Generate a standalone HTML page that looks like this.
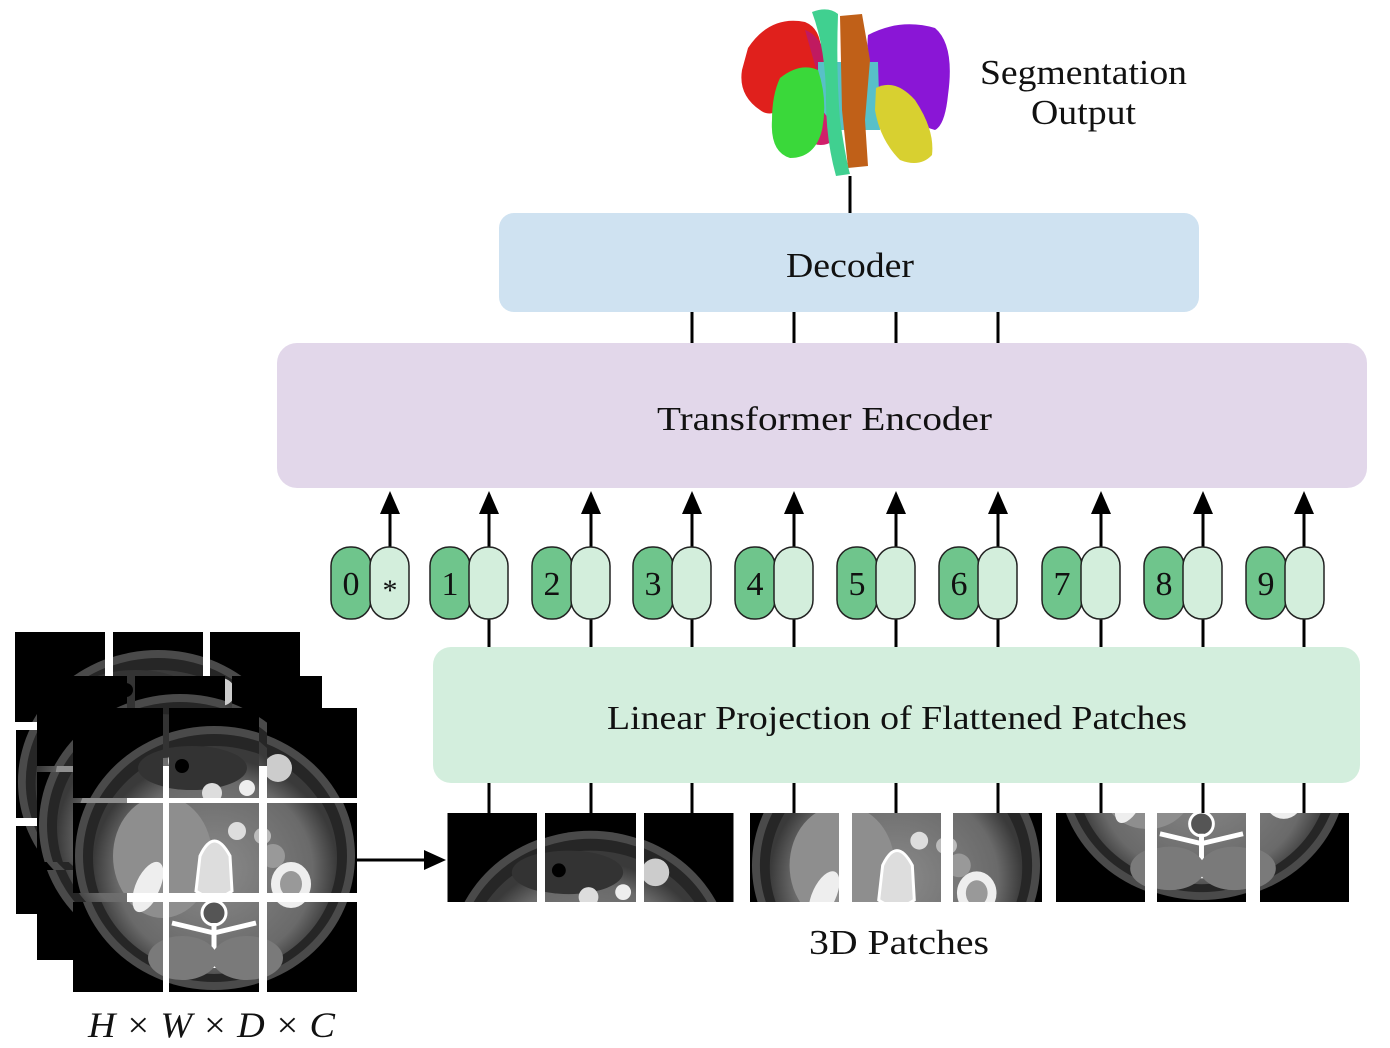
<!DOCTYPE html>
<html><head><meta charset="utf-8"><style>
html,body{margin:0;padding:0;background:#fff;}
svg{display:block;}
text{font-family:"Liberation Serif",serif;fill:#111;}
</style></head><body>
<svg width="1390" height="1048" viewBox="0 0 1390 1048" xmlns="http://www.w3.org/2000/svg">
<defs>
<radialGradient id="bodyg" cx="0.5" cy="0.55" r="0.5">
<stop offset="0" stop-color="#8a8a8a"/><stop offset="0.8" stop-color="#6a6a6a"/><stop offset="1" stop-color="#3a3a3a"/>
</radialGradient>
<g id="ct">
<rect x="0" y="0" width="284" height="284" fill="#000"/>
<ellipse cx="142" cy="150" rx="140" ry="132" fill="#4a4a4a"/>
<ellipse cx="142" cy="150" rx="132" ry="124" fill="#262626"/>
<ellipse cx="142" cy="152" rx="122" ry="114" fill="url(#bodyg)"/>
<ellipse cx="90" cy="150" rx="50" ry="60" fill="#8e8e8e"/>
<ellipse cx="120" cy="60" rx="55" ry="22" fill="#333"/>
<circle cx="110" cy="58" r="7" fill="#000"/>
<circle cx="140" cy="85" r="10" fill="#ddd"/>
<circle cx="175" cy="80" r="8" fill="#eee"/>
<circle cx="205" cy="60" r="14" fill="#ccc"/>
<ellipse cx="75" cy="180" rx="12" ry="26" fill="#eee" transform="rotate(25 75 180)"/>
<ellipse cx="218" cy="178" rx="20" ry="22" fill="#eee"/>
<ellipse cx="218" cy="178" rx="11" ry="13" fill="#999"/>
<path d="M128 150 Q142 120 158 150 L160 185 Q142 198 124 185 Z" fill="#ddd" stroke="#fff" stroke-width="3"/>
<circle cx="142" cy="205" r="12" fill="#555" stroke="#fff" stroke-width="3"/>
<path d="M142 215 L142 260 M142 225 L100 215 M142 225 L184 215" stroke="#fff" stroke-width="5" fill="none"/>
<ellipse cx="110" cy="250" rx="35" ry="22" fill="#7a7a7a"/>
<ellipse cx="175" cy="250" rx="35" ry="22" fill="#7a7a7a"/>
<circle cx="165" cy="125" r="9" fill="#ddd"/><circle cx="190" cy="130" r="8" fill="#bbb"/>
<circle cx="200" cy="150" r="12" fill="#999"/>
</g>
</defs>

<!-- segmentation output -->
<g>
<path d="M748 48 Q770 15 805 22 Q825 30 820 65 Q812 95 785 108 Q770 118 760 110 Q738 95 742 70 Z" fill="#e0201c"/>
<path d="M805 30 Q820 35 828 60 L822 90 Z" fill="#c01a60"/>
<path d="M868 35 Q900 18 935 28 Q955 45 948 95 Q945 125 935 130 Q900 120 880 90 Q865 60 868 35 Z" fill="#8a16d6"/>
<path d="M818 62 L878 62 L880 130 L818 130 Z" fill="#58c0c8"/>
<path d="M812 105 Q830 110 835 140 Q820 150 808 140 Z" fill="#d0206a"/>
<path d="M780 78 Q800 62 818 70 Q828 100 822 130 Q815 158 790 158 Q770 152 772 120 Q772 95 780 78 Z" fill="#3ad83a"/>
<path d="M876 88 Q895 78 915 100 Q935 130 932 155 Q920 168 900 160 Q880 140 875 110 Z" fill="#d8d030"/>
<path d="M840 16 L862 14 L870 60 L865 120 L868 166 L848 168 L842 110 Z" fill="#c06018"/>
<path d="M812 12 Q828 6 838 14 Q836 70 840 120 Q846 160 850 174 L836 176 Q826 140 826 100 Q826 50 812 12 Z" fill="#40d090"/>
</g>
<line x1="850" y1="176" x2="850" y2="213" stroke="#000" stroke-width="3"/>
<text x="980" y="84" font-size="35" textLength="207" lengthAdjust="spacingAndGlyphs">Segmentation</text>
<text x="1031" y="124" font-size="35" textLength="105" lengthAdjust="spacingAndGlyphs">Output</text>

<!-- decoder -->
<rect x="499" y="213" width="700" height="99" rx="15" fill="#cfe2f1"/>
<text x="786" y="277" font-size="35" textLength="128" lengthAdjust="spacingAndGlyphs">Decoder</text>
<g stroke="#000" stroke-width="3">
<line x1="692" y1="312" x2="692" y2="343"/><line x1="794" y1="312" x2="794" y2="343"/>
<line x1="896" y1="312" x2="896" y2="343"/><line x1="998" y1="312" x2="998" y2="343"/>
</g>

<!-- encoder -->
<rect x="277" y="343" width="1090" height="145" rx="20" fill="#e2d7ea"/>
<text x="657" y="430" font-size="34" textLength="335" lengthAdjust="spacingAndGlyphs">Transformer  Encoder</text>

<!-- tokens -->
<g>
<g stroke="#000" stroke-width="3">
<line x1="390" y1="547" x2="390" y2="512"/><line x1="489" y1="547" x2="489" y2="512"/>
<line x1="591" y1="547" x2="591" y2="512"/><line x1="692" y1="547" x2="692" y2="512"/>
<line x1="794" y1="547" x2="794" y2="512"/><line x1="896" y1="547" x2="896" y2="512"/>
<line x1="998" y1="547" x2="998" y2="512"/><line x1="1101" y1="547" x2="1101" y2="512"/>
<line x1="1203" y1="547" x2="1203" y2="512"/><line x1="1304" y1="547" x2="1304" y2="512"/>
<line x1="489" y1="619" x2="489" y2="647"/><line x1="591" y1="619" x2="591" y2="647"/>
<line x1="692" y1="619" x2="692" y2="647"/><line x1="794" y1="619" x2="794" y2="647"/>
<line x1="896" y1="619" x2="896" y2="647"/><line x1="998" y1="619" x2="998" y2="647"/>
<line x1="1101" y1="619" x2="1101" y2="647"/><line x1="1203" y1="619" x2="1203" y2="647"/>
<line x1="1304" y1="619" x2="1304" y2="647"/>
</g>
<g fill="#000">
<polygon points="390,491 380,514 400,514"/><polygon points="489,491 479,514 499,514"/>
<polygon points="591,491 581,514 601,514"/><polygon points="692,491 682,514 702,514"/>
<polygon points="794,491 784,514 804,514"/><polygon points="896,491 886,514 906,514"/>
<polygon points="998,491 988,514 1008,514"/><polygon points="1101,491 1091,514 1111,514"/>
<polygon points="1203,491 1193,514 1213,514"/><polygon points="1304,491 1294,514 1314,514"/>
</g>
<g stroke="#222" stroke-width="1.5">
<rect x="331" y="547" width="40" height="72" rx="19" fill="#6fc58c"/><rect x="370" y="547" width="39" height="72" rx="19" fill="#d3eedc"/>
<rect x="430" y="547" width="40" height="72" rx="19" fill="#6fc58c"/><rect x="469" y="547" width="39" height="72" rx="19" fill="#d3eedc"/>
<rect x="532" y="547" width="40" height="72" rx="19" fill="#6fc58c"/><rect x="571" y="547" width="39" height="72" rx="19" fill="#d3eedc"/>
<rect x="633" y="547" width="40" height="72" rx="19" fill="#6fc58c"/><rect x="672" y="547" width="39" height="72" rx="19" fill="#d3eedc"/>
<rect x="735" y="547" width="40" height="72" rx="19" fill="#6fc58c"/><rect x="774" y="547" width="39" height="72" rx="19" fill="#d3eedc"/>
<rect x="837" y="547" width="40" height="72" rx="19" fill="#6fc58c"/><rect x="876" y="547" width="39" height="72" rx="19" fill="#d3eedc"/>
<rect x="939" y="547" width="40" height="72" rx="19" fill="#6fc58c"/><rect x="978" y="547" width="39" height="72" rx="19" fill="#d3eedc"/>
<rect x="1042" y="547" width="40" height="72" rx="19" fill="#6fc58c"/><rect x="1081" y="547" width="39" height="72" rx="19" fill="#d3eedc"/>
<rect x="1144" y="547" width="40" height="72" rx="19" fill="#6fc58c"/><rect x="1183" y="547" width="39" height="72" rx="19" fill="#d3eedc"/>
<rect x="1246" y="547" width="40" height="72" rx="19" fill="#6fc58c"/><rect x="1285" y="547" width="39" height="72" rx="19" fill="#d3eedc"/>
</g>
<g font-size="34" text-anchor="middle">
<text x="351" y="595">0</text><text x="390" y="600" font-size="30">*</text>
<text x="450" y="595">1</text><text x="552" y="595">2</text><text x="653" y="595">3</text>
<text x="755" y="595">4</text><text x="857" y="595">5</text><text x="959" y="595">6</text>
<text x="1062" y="595">7</text><text x="1164" y="595">8</text><text x="1266" y="595">9</text>
</g>
</g>

<!-- linear projection -->
<rect x="433" y="647" width="927" height="136" rx="18" fill="#d3eedd"/>
<text x="607" y="729" font-size="34" textLength="580" lengthAdjust="spacingAndGlyphs">Linear Projection of Flattened Patches</text>
<g stroke="#000" stroke-width="3">
<line x1="489" y1="783" x2="489" y2="813"/><line x1="591" y1="783" x2="591" y2="813"/>
<line x1="692" y1="783" x2="692" y2="813"/><line x1="794" y1="783" x2="794" y2="813"/>
<line x1="896" y1="783" x2="896" y2="813"/><line x1="998" y1="783" x2="998" y2="813"/>
<line x1="1101" y1="783" x2="1101" y2="813"/><line x1="1203" y1="783" x2="1203" y2="813"/>
<line x1="1304" y1="783" x2="1304" y2="813"/>
</g>

<!-- patches -->
<svg x="447" y="813" width="90" height="89" viewBox="0 0 90 90"><use href="#ct"/></svg>
<svg x="545" y="813" width="91" height="89" viewBox="97 0 90 90"><use href="#ct"/></svg>
<svg x="644" y="813" width="90" height="89" viewBox="194 0 90 90"><use href="#ct"/></svg>
<svg x="750" y="813" width="89" height="89" viewBox="0 97 90 90"><use href="#ct"/></svg>
<svg x="852" y="813" width="89" height="89" viewBox="97 97 90 90"><use href="#ct"/></svg>
<svg x="953" y="813" width="89" height="89" viewBox="194 97 90 90"><use href="#ct"/></svg>
<svg x="1056" y="813" width="89" height="89" viewBox="0 194 90 90"><use href="#ct"/></svg>
<svg x="1157" y="813" width="89" height="89" viewBox="97 194 90 90"><use href="#ct"/></svg>
<svg x="1260" y="813" width="89" height="89" viewBox="194 194 90 90"><use href="#ct"/></svg>
<text x="809" y="954" font-size="35" textLength="180" lengthAdjust="spacingAndGlyphs">3D Patches</text>

<!-- stacked CT volumes -->
<g>
<svg x="15" y="632" width="90" height="90" viewBox="0 0 90 90"><use href="#ct"/></svg>
<svg x="113" y="632" width="90" height="90" viewBox="97 0 90 90"><use href="#ct"/></svg>
<svg x="210" y="632" width="90" height="90" viewBox="194 0 90 90"><use href="#ct"/></svg>
<svg x="15" y="730" width="90" height="88" viewBox="0 97 90 90"><use href="#ct"/></svg>
<svg x="15" y="826" width="90" height="88" viewBox="0 194 90 90"><use href="#ct"/></svg>
<svg x="37" y="676" width="90" height="90" viewBox="0 0 90 90"><use href="#ct"/></svg>
<svg x="135" y="676" width="90" height="90" viewBox="97 0 90 90"><use href="#ct"/></svg>
<svg x="232" y="676" width="90" height="90" viewBox="194 0 90 90"><use href="#ct"/></svg>
<svg x="37" y="772" width="90" height="90" viewBox="0 97 90 90"><use href="#ct"/></svg>
<svg x="37" y="870" width="90" height="90" viewBox="0 194 90 90"><use href="#ct"/></svg>
<svg x="73" y="708" width="90" height="90" viewBox="0 0 90 90"><use href="#ct"/></svg>
<svg x="169" y="708" width="90" height="90" viewBox="97 0 90 90"><use href="#ct"/></svg>
<svg x="267" y="708" width="90" height="90" viewBox="194 0 90 90"><use href="#ct"/></svg>
<svg x="73" y="803" width="90" height="90" viewBox="0 97 90 90"><use href="#ct"/></svg>
<svg x="169" y="803" width="90" height="90" viewBox="97 97 90 90"><use href="#ct"/></svg>
<svg x="267" y="803" width="90" height="90" viewBox="194 97 90 90"><use href="#ct"/></svg>
<svg x="73" y="902" width="90" height="90" viewBox="0 194 90 90"><use href="#ct"/></svg>
<svg x="169" y="902" width="90" height="90" viewBox="97 194 90 90"><use href="#ct"/></svg>
<svg x="267" y="902" width="90" height="90" viewBox="194 194 90 90"><use href="#ct"/></svg>
</g>
<line x1="357" y1="860" x2="428" y2="860" stroke="#000" stroke-width="3"/>
<polygon points="446,860 424,850 424,870" fill="#000"/>
<text x="88" y="1037" font-size="36" font-style="italic" textLength="247" lengthAdjust="spacingAndGlyphs">H × W × D × C</text>
</svg>
</body></html>
